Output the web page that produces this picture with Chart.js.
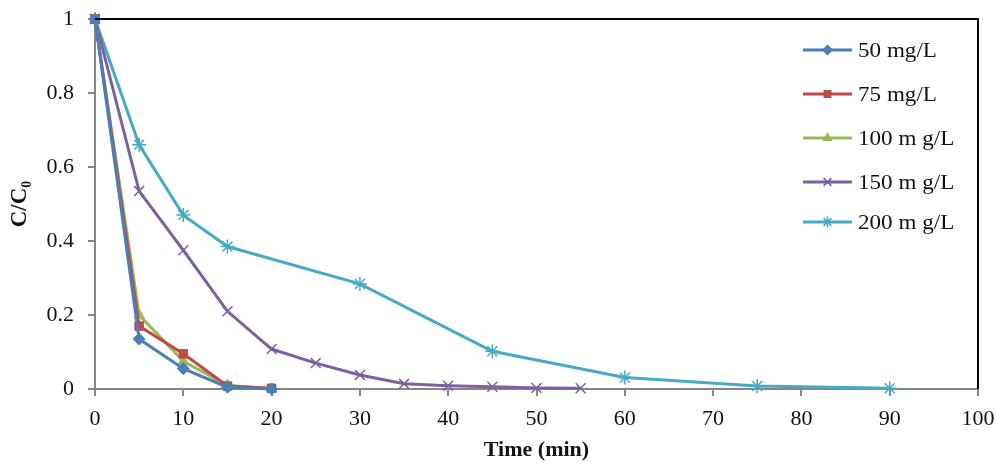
<!DOCTYPE html>
<html>
<head>
<meta charset="utf-8">
<script src="https://cdn.jsdelivr.net/npm/chart.js@4.4.1/dist/chart.umd.min.js"></script>
<style>
  html, body { margin: 0; padding: 0; background: #fff; }
  #wrap { width: 996px; height: 464px; }
</style>
</head>
<body>
<div id="wrap"><canvas id="myChart"></canvas></div>
<script>
// data
const seriesNames = ['50 mg/L', '75 mg/L', '100 m g/L', '150 m g/L', '200 m g/L'];
const timeShort = [0, 5, 10, 15, 20];
const c50 = [1, 0.135, 0.055, 0.005, 0];
const c75 = [1, 0.17, 0.095, 0.008, 0.002];
const c100 = [1, 0.2, 0.075, 0.01, 0];
const time150 = [0, 5, 10, 15, 20, 25, 30, 35, 40, 45, 50, 55];
const c150 = [1, 0.535, 0.375, 0.21, 0.108, 0.07, 0.038, 0.014, 0.009, 0.006, 0.003, 0.002];
const time200 = [0, 5, 10, 15, 30, 45, 60, 75, 90];
const c200 = [1, 0.66, 0.47, 0.385, 0.284, 0.102, 0.031, 0.008, 0.002];
const xTicks = [0, 10, 20, 30, 40, 50, 60, 70, 80, 90, 100];
const yTicks = [0, 0.2, 0.4, 0.6, 0.8, 1];

const colors = ['#4A7EBB', '#BE4B48', '#98B954', '#7D60A0', '#46AAC5'];
const markers = ['rectRot', 'rect', 'triangle', 'crossRot', 'star'];

function pts(xs, ys) {
  return xs.map((x, i) => ({ x: x, y: ys[i] }));
}

const allData = [
  pts(timeShort, c50),
  pts(timeShort, c75),
  pts(timeShort, c100),
  pts(time150, c150),
  pts(time200, c200)
];

const datasets = allData.map((d, i) => ({
  label: seriesNames[i],
  data: d,
  borderColor: colors[i],
  backgroundColor: colors[i],
  borderWidth: 3,
  pointStyle: markers[i],
  pointRadius: (markers[i] === 'crossRot' || markers[i] === 'star') ? 7 : 6,
  pointBorderWidth: (markers[i] === 'crossRot' || markers[i] === 'star') ? 1.5 : 1,
  tension: 0,
  clip: false
}));

const serif = '"Liberation Serif", "Times New Roman", serif';

// frame + legend drawn inside the plot
const framePlugin = {
  id: 'frame',
  afterDraw(chart) {
    const ctx = chart.ctx;
    const a = chart.chartArea;
    ctx.save();
    ctx.strokeStyle = '#000';
    ctx.lineWidth = 2;
    ctx.beginPath();
    ctx.moveTo(a.left, a.top);
    ctx.lineTo(a.right, a.top);
    ctx.lineTo(a.right, a.bottom);
    ctx.stroke();

    // legend
    const x0 = 803, x1 = 852, tx = 858;
    const rowY = [50, 94, 138, 182, 222];
    ctx.font = '21px ' + serif;
    ctx.textBaseline = 'middle';
    chart.data.datasets.forEach((ds, i) => {
      const y = rowY[i];
      ctx.strokeStyle = ds.borderColor;
      ctx.lineWidth = 3;
      ctx.beginPath();
      ctx.moveTo(x0, y);
      ctx.lineTo(x1, y);
      ctx.stroke();
      ctx.fillStyle = ds.backgroundColor;
      ctx.strokeStyle = ds.borderColor;
      ctx.lineWidth = 1.5;
      Chart.helpers.drawPoint(ctx, {
        pointStyle: ds.pointStyle,
        radius: ds.pointRadius - 1.5,
        borderWidth: 1.5
      }, (x0 + x1) / 2, y);
      ctx.fillStyle = '#111';
      ctx.save();
      ctx.translate(tx, y);
      ctx.scale(1.1, 1);
      ctx.fillText(ds.label, 0, 1);
      ctx.restore();
    });
    ctx.restore();
  }
};

const config = {
  type: 'line',
  data: { datasets },
  options: {
    responsive: true,
    maintainAspectRatio: false,
    animation: false,
    layout: { padding: { top: 19, right: 18, left: 0, bottom: 0 } },
    plugins: {
      legend: { display: false },
      tooltip: { enabled: false }
    },
    scales: {
      x: {
        type: 'linear',
        min: 0,
        max: 100,
        afterBuildTicks: (s) => { s.ticks = xTicks.map(v => ({ value: v })); },
        afterFit: (s) => { s.height = 75; s.paddingLeft = 0; s.paddingRight = 0; },
        border: { color: '#868686', width: 2 },
        grid: { drawOnChartArea: false, drawTicks: true, tickLength: 7, color: '#868686', lineWidth: 2 },
        ticks: { color: '#111', font: { family: serif, size: 22 }, padding: 10 },
        title: {
          display: true,
          text: 'Time (min)',
          color: '#111',
          font: { family: serif, size: 22, weight: 'bold' },
          padding: { top: 2, bottom: 0 }
        }
      },
      y: {
        min: 0,
        max: 1,
        afterBuildTicks: (s) => { s.ticks = yTicks.map(v => ({ value: v })); },
        afterFit: (s) => { s.width = 95; s.paddingTop = 0; s.paddingBottom = 0; },
        border: { color: '#868686', width: 2 },
        grid: { drawOnChartArea: false, drawTicks: true, tickLength: 7, color: '#868686', lineWidth: 2 },
        ticks: {
          color: '#111',
          font: { family: serif, size: 22 },
          padding: 14,
          callback: (v) => String(v)
        },
        title: {
          display: true,
          text: 'C/C₀',
          color: '#111',
          font: { family: serif, size: 23, weight: 'bold' },
          padding: { top: 6, bottom: 10 }
        }
      }
    }
  },
  plugins: [framePlugin]
};

const myChart = new Chart(document.getElementById('myChart'), config);
</script>
</body>
</html>
